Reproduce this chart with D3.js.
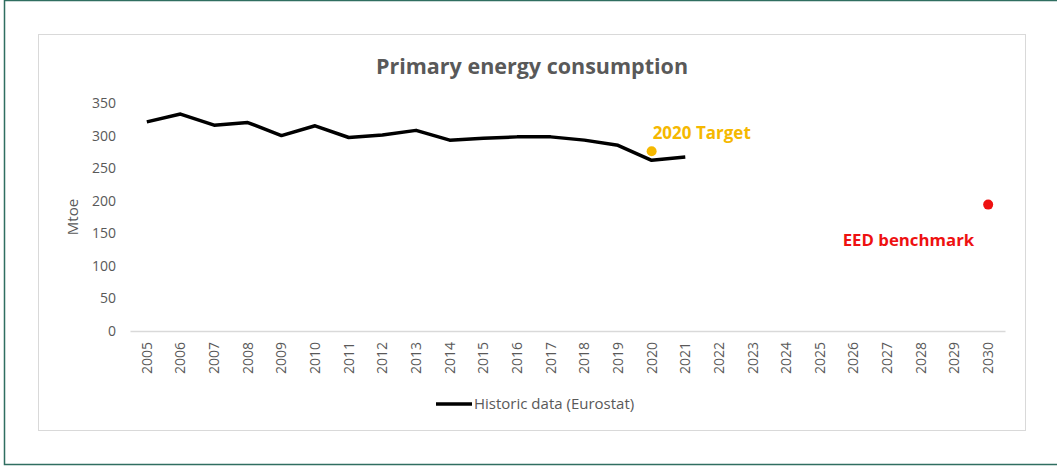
<!DOCTYPE html>
<html>
<head>
<meta charset="utf-8">
<script src="https://cdn.jsdelivr.net/npm/d3@7"></script>
<style>
  html, body { margin: 0; padding: 0; background: #fff; }
  svg { display: block; }
  text { font-family: "Open Sans", "Noto Sans", sans-serif; }
</style>
</head>
<body>
<svg id="chart" width="1057" height="473"></svg>
<script>
// Years on the category axis
const years = d3.range(2005, 2031).map(String);
// Primary energy consumption, Mtoe (Eurostat)
const historicYears = ["2005","2006","2007","2008","2009","2010","2011","2012","2013","2014","2015","2016","2017","2018","2019","2020","2021"];
const historicValues = [321, 333, 316, 320, 300, 315, 297, 301, 308, 293, 296, 298, 298, 293, 285, 262, 267];
// Reference points
const targetYear = "2020", targetValue = 276;
const benchmarkYear = "2030", benchmarkValue = 194;
const yTicks = [0, 50, 100, 150, 200, 250, 300, 350];

const svg = d3.select("#chart");

// Outer frame
svg.append("rect")
  .attr("x", 4.5).attr("y", 0.5).attr("width", 1080).attr("height", 464)
  .attr("fill", "none").attr("stroke", "#2f6e60").attr("stroke-width", 1.5);

// Chart area box
svg.append("rect")
  .attr("x", 38.5).attr("y", 34.5).attr("width", 987).attr("height", 396)
  .attr("fill", "#fff").attr("stroke", "#d9d9d9").attr("stroke-width", 1);

const x = d3.scaleBand().domain(years).range([130, 1005]);
const y = d3.scaleLinear().domain([0, 350]).range([331, 103]);
const cx = d => x(d) + x.bandwidth() / 2;

// Title
svg.append("text")
  .attr("x", 532).attr("y", 74)
  .attr("text-anchor", "middle")
  .attr("font-size", 21.5).attr("font-weight", "bold")
  .attr("fill", "#595959")
  .text("Primary energy consumption");

// Y axis
const yAxis = svg.append("g")
  .attr("transform", "translate(130,0)")
  .call(d3.axisLeft(y).tickValues(yTicks).tickSize(0).tickPadding(14));
yAxis.select(".domain").remove();
yAxis.selectAll("text").attr("font-size", 14).attr("fill", "#595959")
  .attr("font-family", "'Open Sans', sans-serif");

svg.append("text")
  .attr("transform", "translate(78,217) rotate(-90)")
  .attr("text-anchor", "middle")
  .attr("font-size", 15).attr("fill", "#595959")
  .text("Mtoe");

// X axis
const xAxis = svg.append("g")
  .attr("transform", "translate(0,331)")
  .call(d3.axisBottom(x).tickSize(0).tickPadding(0));
xAxis.select(".domain").attr("stroke", "#d9d9d9").attr("stroke-width", 1.5);
xAxis.selectAll("text")
  .attr("font-size", 14).attr("fill", "#595959")
  .attr("font-family", "'Open Sans', sans-serif")
  .attr("transform", "rotate(-90)")
  .attr("text-anchor", "end")
  .attr("dy", "0.35em")
  .attr("x", -11).attr("y", 0);

// Historic line
const line = d3.line().x(d => cx(d[0])).y(d => y(d[1]));
svg.append("path")
  .datum(historicYears.map((yr, i) => [yr, historicValues[i]]))
  .attr("d", line)
  .attr("fill", "none").attr("stroke", "#000").attr("stroke-width", 3.5)
  .attr("stroke-linejoin", "round");

// 2020 target point
svg.append("circle")
  .attr("cx", cx(targetYear)).attr("cy", y(targetValue)).attr("r", 5)
  .attr("fill", "#f5b800");
svg.append("text")
  .attr("x", cx(targetYear) + 1).attr("y", y(targetValue) - 12)
  .attr("font-size", 17).attr("font-weight", "bold").attr("fill", "#f5b800")
  .text("2020 Target");

// 2030 benchmark point
svg.append("circle")
  .attr("cx", cx(benchmarkYear)).attr("cy", y(benchmarkValue)).attr("r", 5)
  .attr("fill", "#ee1111");
svg.append("text")
  .attr("x", cx(benchmarkYear) - 14).attr("y", y(benchmarkValue) + 41)
  .attr("text-anchor", "end")
  .attr("font-size", 16.8).attr("font-weight", "bold").attr("fill", "#ee1111")
  .text("EED benchmark");

// Legend
svg.append("line")
  .attr("x1", 436).attr("x2", 472).attr("y1", 404).attr("y2", 404)
  .attr("stroke", "#000").attr("stroke-width", 3.5);
svg.append("text")
  .attr("x", 474).attr("y", 409)
  .attr("font-size", 15).attr("fill", "#595959")
  .text("Historic data (Eurostat)");
</script>
</body>
</html>
